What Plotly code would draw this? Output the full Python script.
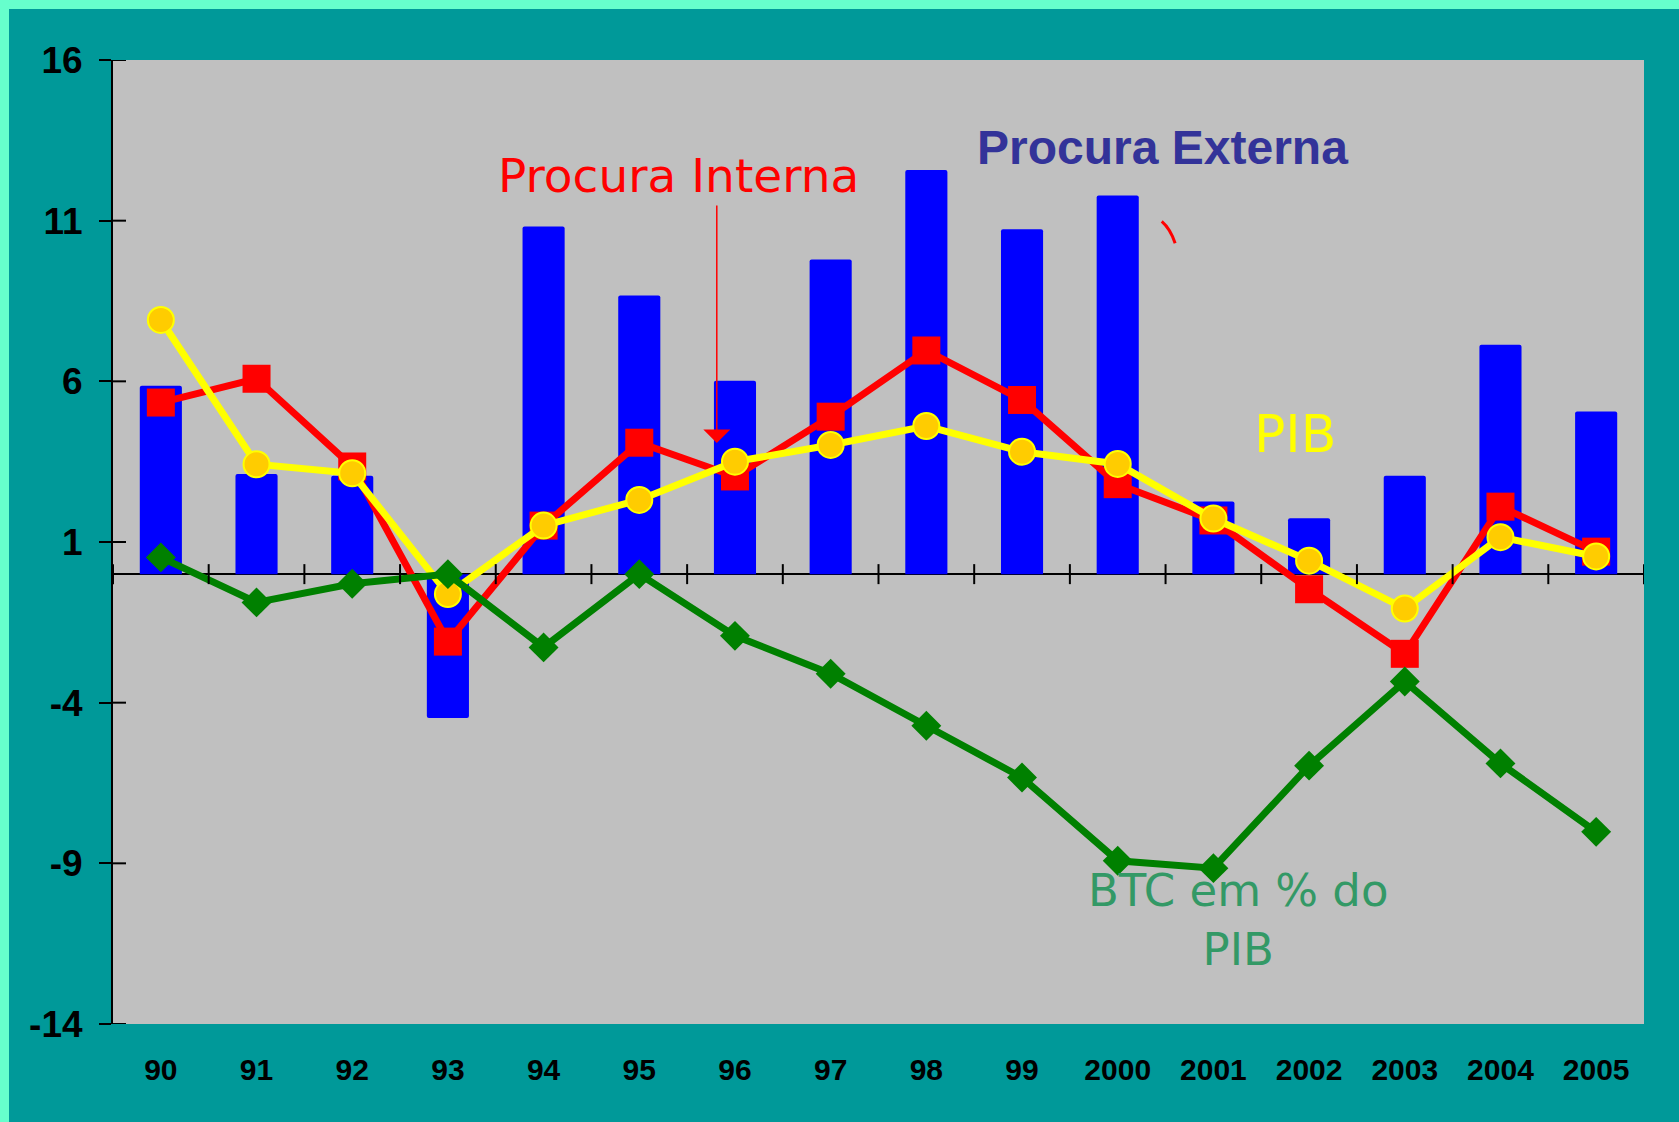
import plotly.graph_objects as go

years = ["90", "91", "92", "93", "94", "95", "96", "97", "98", "99",
         "2000", "2001", "2002", "2003", "2004", "2005"]
procura_externa = [5.86, 3.12, 3.06, -4.48, 10.82, 8.67, 6.02, 9.79, 12.58, 10.73,
                   11.78, 2.26, 1.74, 3.06, 7.14, 5.06]
procura_interna = [5.34, 6.08, 3.35, -2.10, 1.51, 4.09, 3.04, 4.90, 6.96, 5.42,
                   2.80, 1.67, -0.47, -2.48, 2.10, 0.70]
pib = [7.91, 3.42, 3.14, -0.62, 1.51, 2.31, 3.50, 4.02, 4.61, 3.81,
       3.43, 1.73, 0.42, -1.07, 1.15, 0.55]
btc = [0.52, -0.88, -0.30, 0.0, -2.28, 0.0, -1.92, -3.10, -4.72, -6.33,
       -8.92, -9.15, -5.96, -3.34, -5.89, -8.02]
y_ticks = [-14, -9, -4, 1, 6, 11, 16]
y_tick_labels = ["-14", "-9", "-4", "1", "6", "11", "16"]

fig = go.Figure()
fig.add_trace(go.Bar(x=years, y=procura_externa, width=0.44,
                     marker=dict(color="#0000FF", line=dict(width=0), cornerradius=2),
                     name="Procura Externa"))
fig.add_trace(go.Scatter(x=years, y=procura_interna, mode="lines+markers",
                         line=dict(color="#FF0000", width=7),
                         marker=dict(symbol="square", size=28, color="#FF0000"),
                         name="Procura Interna"))
fig.add_trace(go.Scatter(x=years, y=pib, mode="lines+markers",
                         line=dict(color="#FFFF00", width=7),
                         marker=dict(symbol="circle", size=26, color="#FFCC00",
                                     line=dict(color="#FFFF00", width=2)),
                         name="PIB"))
fig.add_trace(go.Scatter(x=years, y=btc, mode="lines+markers",
                         line=dict(color="#008000", width=7),
                         marker=dict(symbol="diamond", size=23, color="#008000"),
                         name="BTC em % do PIB"))

shapes = []
# crossing ticks on the zero axis at category boundaries
for i in range(len(years) + 1):
    shapes.append(dict(type="line", xref="x", yref="y", x0=i - 0.5, x1=i - 0.5,
                       ysizemode="pixel", yanchor=0, y0=-10, y1=10,
                       line=dict(color="black", width=2)))
# inner half of the y-axis ticks
for t in y_ticks:
    shapes.append(dict(type="line", xref="paper", yref="y", y0=t, y1=t,
                       xsizemode="pixel", xanchor=0, x0=0, x1=13,
                       line=dict(color="black", width=2)))
# mint border strips (left and top)
shapes.append(dict(type="rect", xref="paper", yref="paper", xsizemode="pixel", xanchor=0,
                   x0=-113, x1=-104, y0=-0.2, y1=1.2, fillcolor="#66FFCC",
                   line=dict(width=0), layer="above"))
shapes.append(dict(type="rect", xref="paper", yref="paper", ysizemode="pixel", yanchor=1,
                   y0=60, y1=51, x0=-0.1, x1=1.1, fillcolor="#66FFCC",
                   line=dict(width=0), layer="above"))
# small red stroke
shapes.append(dict(type="path", xref="x", yref="y",
                   path="M 10.46 10.98 Q 10.55 10.75 10.60 10.30",
                   line=dict(color="#FF0000", width=3)))

annotations = [
    dict(x=5.415, y=12.42, xref="x", yref="y", text="Procura Interna", showarrow=False,
         font=dict(family="DejaVu Sans", size=47, color="#FF0000")),
    dict(x=5.81, y=4.08, ax=5.81, ay=11.52, xref="x", yref="y", axref="x", ayref="y",
         text="", showarrow=True, arrowhead=1, arrowsize=3, arrowwidth=1.5,
         arrowcolor="#FF0000", standoff=0, startstandoff=0),
    dict(x=10.47, y=13.28, xref="x", yref="y", text="<b>Procura Externa</b>", showarrow=False,
         font=dict(family="Liberation Sans, Arial", size=48, color="#333399")),
    dict(x=11.85, y=4.37, xref="x", yref="y", text="PIB", showarrow=False,
         font=dict(family="DejaVu Sans", size=52, color="#FFFF00")),
    dict(x=11.26, y=-10.75, xref="x", yref="y", text="BTC em % do<br>PIB", showarrow=False,
         font=dict(family="DejaVu Sans", size=45, color="#339966")),
]

fig.update_layout(
    width=1679, height=1122,
    margin=dict(l=113, r=35, t=60, b=98, pad=0),
    paper_bgcolor="#009999", plot_bgcolor="#C0C0C0",
    showlegend=False,
    shapes=shapes, annotations=annotations,
    xaxis=dict(type="category", range=[-0.5, 15.5], showline=False, ticks="",
               showgrid=False, zeroline=False, ticklabelstandoff=25,
               tickfont=dict(family="Liberation Sans, Arial", size=30, color="black",
                             weight="bold")),
    yaxis=dict(range=[-14, 16], tickvals=y_ticks, ticktext=y_tick_labels,
               ticks="outside", ticklen=12,
               tickwidth=2, tickcolor="black", showline=True, linecolor="black",
               linewidth=2, showgrid=False, zeroline=True, zerolinecolor="black",
               zerolinewidth=2, ticklabelstandoff=9,
               tickfont=dict(family="Liberation Sans, Arial", size=37, color="black",
                             weight="bold")),
)

fig.write_html("out.html", config={"displayModeBar": False},
               post_script="document.body.style.margin='0px';document.body.style.overflow='hidden';")
